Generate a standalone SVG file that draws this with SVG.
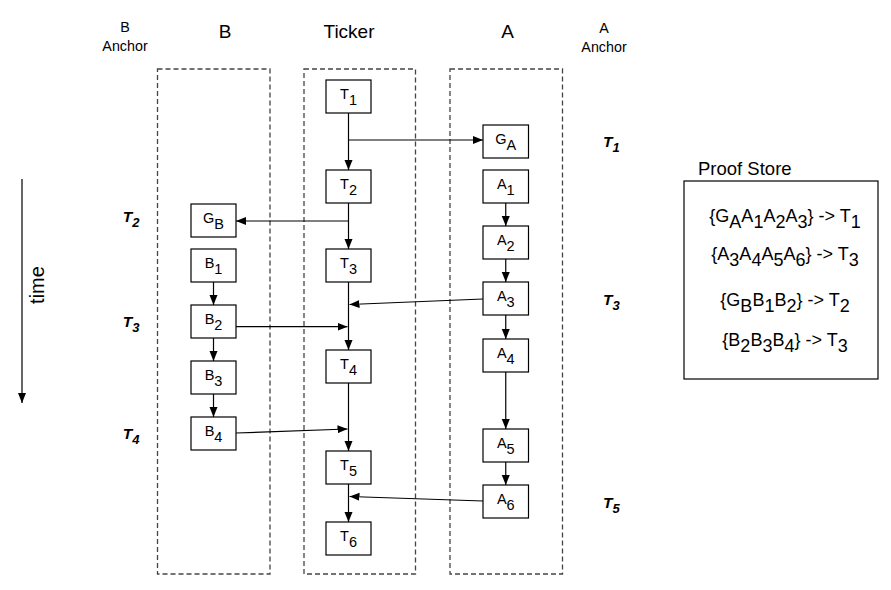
<svg xmlns="http://www.w3.org/2000/svg" width="891" height="590" viewBox="0 0 891 590">
<defs>
<style>
text{font-family:"Liberation Sans",Arial,Helvetica,sans-serif;fill:#000}
.lane{fill:none;stroke:#444;stroke-width:1.3;stroke-dasharray:5 3}
.node rect{fill:#fff;stroke:#000;stroke-width:1.2}
.node text{font-size:14.5px;text-anchor:middle}
.hdr{font-size:19px;text-anchor:middle}
.anc{font-size:14.3px;text-anchor:middle}
.tl{font-size:15.5px;font-weight:bold;font-style:italic}
.tl .s{font-size:13px}
.ps{font-size:18px;text-anchor:middle}
.conn path{fill:none;stroke:#000;stroke-width:1.2}
</style>
<marker id="ar" viewBox="0 0 10 10" refX="10" refY="5" markerWidth="10" markerHeight="10" markerUnits="userSpaceOnUse" orient="auto">
<path d="M0,1 L10,5 L0,9 z" fill="#000"/>
</marker>
</defs>
<rect width="891" height="590" fill="#fff"/>
<g id="headers">
<text class="anc" x="125" y="32">B</text>
<text class="anc" x="125" y="50.5">Anchor</text>
<text class="hdr" x="225" y="38">B</text>
<text class="hdr" x="349" y="38">Ticker</text>
<text class="hdr" x="507.7" y="38">A</text>
<text class="anc" x="604" y="33">A</text>
<text class="anc" x="604" y="51.5">Anchor</text>
</g>
<g id="lanes">
<rect id="lane-B" class="lane" x="157.5" y="69" width="112.5" height="505"/>
<rect id="lane-Ticker" class="lane" x="304" y="69" width="111.5" height="505"/>
<rect id="lane-A" class="lane" x="450" y="69" width="112.5" height="505"/>
</g>
<g id="time">
<path d="M22,179 L22,403" stroke="#000" stroke-width="1.2" marker-end="url(#ar)"/>
<text transform="translate(44,285) rotate(-90)" font-size="20" text-anchor="middle">time</text>
</g>
<g id="anchor-labels">
<text class="tl" x="603" y="146.5">T<tspan class="s" dy="5">1</tspan></text>
<text class="tl" x="122.7" y="222">T<tspan class="s" dy="5">2</tspan></text>
<text class="tl" x="122.7" y="326.7">T<tspan class="s" dy="5">3</tspan></text>
<text class="tl" x="122.7" y="439">T<tspan class="s" dy="5">4</tspan></text>
<text class="tl" x="603" y="305">T<tspan class="s" dy="5">3</tspan></text>
<text class="tl" x="603" y="507.5">T<tspan class="s" dy="5">5</tspan></text>
</g>
<g class="conn" id="connectors">
<path d="M348.5,113 L348.5,170" marker-end="url(#ar)"/>
<path d="M348.5,203 L348.5,249" marker-end="url(#ar)"/>
<path d="M348.5,282 L348.5,350" marker-end="url(#ar)"/>
<path d="M348.5,383 L348.5,451" marker-end="url(#ar)"/>
<path d="M348.5,484 L348.5,522" marker-end="url(#ar)"/>
<path d="M348.5,140 L483,140" marker-end="url(#ar)"/>
<path d="M348.5,221 L236,221" marker-end="url(#ar)"/>
<path d="M483,299 L349.5,304.5" marker-end="url(#ar)"/>
<path d="M236,326.7 L347.5,326.7" marker-end="url(#ar)"/>
<path d="M236,433 L347.5,429" marker-end="url(#ar)"/>
<path d="M483,501 L349.5,496.5" marker-end="url(#ar)"/>
<path d="M505.75,203 L505.75,226" marker-end="url(#ar)"/>
<path d="M505.75,259 L505.75,282" marker-end="url(#ar)"/>
<path d="M505.75,315 L505.75,339" marker-end="url(#ar)"/>
<path d="M505.75,372 L505.75,429" marker-end="url(#ar)"/>
<path d="M505.75,462 L505.75,485" marker-end="url(#ar)"/>
<path d="M213.5,282 L213.5,305" marker-end="url(#ar)"/>
<path d="M213.5,338 L213.5,361" marker-end="url(#ar)"/>
<path d="M213.5,394 L213.5,417" marker-end="url(#ar)"/>
</g>
<g id="T1" class="node"><rect x="326" y="80" width="45" height="33"/><text x="348.5" y="98.5">T<tspan dy="6">1</tspan></text></g>
<g id="T2" class="node"><rect x="326" y="170" width="45" height="33"/><text x="348.5" y="188.5">T<tspan dy="6">2</tspan></text></g>
<g id="T3" class="node"><rect x="326" y="249" width="45" height="33"/><text x="348.5" y="267.5">T<tspan dy="6">3</tspan></text></g>
<g id="T4" class="node"><rect x="326" y="350" width="45" height="33"/><text x="348.5" y="368.5">T<tspan dy="6">4</tspan></text></g>
<g id="T5" class="node"><rect x="326" y="451" width="45" height="33"/><text x="348.5" y="469.5">T<tspan dy="6">5</tspan></text></g>
<g id="T6" class="node"><rect x="326" y="522" width="45" height="33"/><text x="348.5" y="540.5">T<tspan dy="6">6</tspan></text></g>
<g id="GA" class="node"><rect x="483" y="125" width="45.5" height="33"/><text x="505.75" y="143.5">G<tspan dy="6">A</tspan></text></g>
<g id="A1" class="node"><rect x="483" y="170" width="45.5" height="33"/><text x="505.75" y="188.5">A<tspan dy="6">1</tspan></text></g>
<g id="A2" class="node"><rect x="483" y="226" width="45.5" height="33"/><text x="505.75" y="244.5">A<tspan dy="6">2</tspan></text></g>
<g id="A3" class="node"><rect x="483" y="282" width="45.5" height="33"/><text x="505.75" y="300.5">A<tspan dy="6">3</tspan></text></g>
<g id="A4" class="node"><rect x="483" y="339" width="45.5" height="33"/><text x="505.75" y="357.5">A<tspan dy="6">4</tspan></text></g>
<g id="A5" class="node"><rect x="483" y="429" width="45.5" height="33"/><text x="505.75" y="447.5">A<tspan dy="6">5</tspan></text></g>
<g id="A6" class="node"><rect x="483" y="485" width="45.5" height="33"/><text x="505.75" y="503.5">A<tspan dy="6">6</tspan></text></g>
<g id="GB" class="node"><rect x="191" y="204" width="45" height="33"/><text x="213.5" y="222.5">G<tspan dy="6">B</tspan></text></g>
<g id="B1" class="node"><rect x="191" y="249" width="45" height="33"/><text x="213.5" y="267.5">B<tspan dy="6">1</tspan></text></g>
<g id="B2" class="node"><rect x="191" y="305" width="45" height="33"/><text x="213.5" y="323.5">B<tspan dy="6">2</tspan></text></g>
<g id="B3" class="node"><rect x="191" y="361" width="45" height="33"/><text x="213.5" y="379.5">B<tspan dy="6">3</tspan></text></g>
<g id="B4" class="node"><rect x="191" y="417" width="45" height="33"/><text x="213.5" y="435.5">B<tspan dy="6">4</tspan></text></g>
<g id="proof-store">
<text x="698" y="175" font-size="18.5">Proof Store</text>
<rect x="684" y="181" width="194" height="198" fill="none" stroke="#000" stroke-width="1.2"/>
<text class="ps" x="785" y="222">{G<tspan dy="6">A</tspan><tspan dy="-6">A</tspan><tspan dy="6">1</tspan><tspan dy="-6">A</tspan><tspan dy="6">2</tspan><tspan dy="-6">A</tspan><tspan dy="6">3</tspan><tspan dy="-6">} -&gt; T</tspan><tspan dy="6">1</tspan></text>
<text class="ps" x="785" y="260">{A<tspan dy="6">3</tspan><tspan dy="-6">A</tspan><tspan dy="6">4</tspan><tspan dy="-6">A</tspan><tspan dy="6">5</tspan><tspan dy="-6">A</tspan><tspan dy="6">6</tspan><tspan dy="-6">} -&gt; T</tspan><tspan dy="6">3</tspan></text>
<text class="ps" x="785" y="306">{G<tspan dy="6">B</tspan><tspan dy="-6">B</tspan><tspan dy="6">1</tspan><tspan dy="-6">B</tspan><tspan dy="6">2</tspan><tspan dy="-6">} -&gt; T</tspan><tspan dy="6">2</tspan></text>
<text class="ps" x="785" y="346">{B<tspan dy="6">2</tspan><tspan dy="-6">B</tspan><tspan dy="6">3</tspan><tspan dy="-6">B</tspan><tspan dy="6">4</tspan><tspan dy="-6">} -&gt; T</tspan><tspan dy="6">3</tspan></text>
</g>
</svg>
